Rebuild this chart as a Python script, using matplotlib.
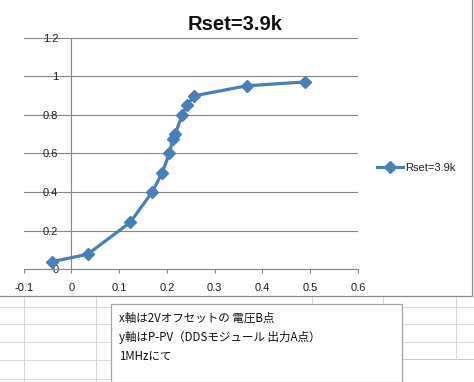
import matplotlib
matplotlib.use('Agg')
import matplotlib.pyplot as plt
from matplotlib.lines import Line2D
from matplotlib.patches import Rectangle

# ---- data ----
x_vals = [-0.04, 0.034, 0.123, 0.169, 0.19, 0.205, 0.212, 0.217, 0.232, 0.2425, 0.257, 0.367, 0.489]
y_vals = [0.04, 0.078, 0.243, 0.40, 0.50, 0.60, 0.672, 0.70, 0.80, 0.853, 0.898, 0.95, 0.97]
series_name = 'Rset=3.9k'
chart_title = 'Rset=3.9k'
x_ticks = [-0.1, 0.0, 0.1, 0.2, 0.3, 0.4, 0.5, 0.6]
x_tick_labels = ['-0.1', '0', '0.1', '0.2', '0.3', '0.4', '0.5', '0.6']
y_ticks = [0.0, 0.2, 0.4, 0.6, 0.8, 1.0, 1.2]
y_tick_labels = ['0', '0.2', '0.4', '0.6', '0.8', '1', '1.2']
note_lines = ['x軸は2Vオフセットの 電圧B点',
              'y軸はP-PV（DDSモジュール 出力A点）',
              '1MHzにて']

plt.rcParams['font.family'] = ['Liberation Sans', 'Noto Sans CJK JP', 'DejaVu Sans']

W, H = 474, 382
fig = plt.figure(figsize=(W / 100, H / 100), dpi=100)
fig.patch.set_facecolor('white')


def fx(px):
    return px / W


def fy(py):
    return 1 - py / H


def fline(x0, y0, x1, y1, color, lw=0.72, z=-10):
    fig.add_artist(Line2D([fx(x0), fx(x1)], [fy(y0), fy(y1)], transform=fig.transFigure,
                          color=color, lw=lw, zorder=z))


# ---- spreadsheet grid below the chart ----
grid_c = '#d9d9d9'
for yy in [306.5, 324.3, 342.3, 360.3, 378.7]:
    fline(0, yy, 110, yy, grid_c)
for yy in [306.5, 324.3, 342.3]:
    fline(402, yy, 474, yy, grid_c)
fline(402, 358.5, 474, 358.5, '#c8c8c8')
for xx in [23.5, 95.7]:
    fline(xx, 296, xx, 382, grid_c)
for xx in [311.7, 383.3]:
    fline(xx, 296, xx, 304, grid_c)
fline(455.7, 296, 455.7, 358.5, grid_c)

# ---- chart area ----
fig.add_artist(Rectangle((fx(0), fy(296)), fx(472), 296 / H, transform=fig.transFigure,
                         facecolor='white', edgecolor='none', zorder=-5))
fline(472, 0, 472, 296.3, '#8c8c8c', lw=0.9, z=-4)
fline(0, 296.3, 472, 296.3, '#8c8c8c', lw=0.9, z=-4)

# ---- axes ----
left, right, top, bottom = 23.7, 358.0, 37.5, 269.3
ax = fig.add_axes([fx(left), fy(bottom), (right - left) / W, (bottom - top) / H])
ax.patch.set_alpha(0)
ax.set_xlim(-0.1, 0.6)
ax.set_ylim(0, 1.2)
for s in ['top', 'right', 'left']:
    ax.spines[s].set_visible(False)
ax.spines['bottom'].set_color('#868686')
ax.spines['bottom'].set_linewidth(0.8)

ax.set_xticks(x_ticks, x_tick_labels)
ax.set_yticks(y_ticks, y_tick_labels)
ax.tick_params(axis='x', direction='out', length=2.9, width=0.8, color='#868686',
               labelsize=8, pad=7, labelcolor='#222222')
ax.tick_params(axis='y', length=0, labelsize=8, pad=-24.9, labelcolor='#222222')
ax.grid(axis='y', color='#868686', lw=0.8)
ax.set_axisbelow(True)
ax.axvline(0, color='#868686', lw=0.8, zorder=1.5)

ax.plot(x_vals, y_vals, color='#4a7ebb', lw=2.3, marker='D', ms=6,
        markerfacecolor='#4a7ebb', markeredgecolor='#4a7ebb', clip_on=False,
        label=series_name, zorder=3)

fig.legend(loc='center left', bbox_to_anchor=(fx(377), fy(168)), bbox_transform=fig.transFigure,
           frameon=False, fontsize=8, handlelength=2.34, handletextpad=0.2,
           borderpad=0, borderaxespad=0, labelcolor='#222222')

fig.text(fx(235.5), fy(25), chart_title, ha='center', va='center', fontsize=14.5,
         fontweight='bold', color='#111111')

# ---- note text box ----
fig.add_artist(Rectangle((fx(110.5), fy(381.5)), (401.7 - 110.5) / W, (381.5 - 303.5) / H,
                         transform=fig.transFigure, facecolor='white', edgecolor='#a6a6a6',
                         lw=0.9, zorder=5))
for i, line in enumerate(note_lines):
    fig.text(fx(119.5), fy(318 + 19 * i), line, ha='left', va='center', fontsize=8.3,
             family=['Noto Sans CJK JP', 'DejaVu Sans'], color='#111111', zorder=6)

fig.savefig('out.png', dpi=100)
